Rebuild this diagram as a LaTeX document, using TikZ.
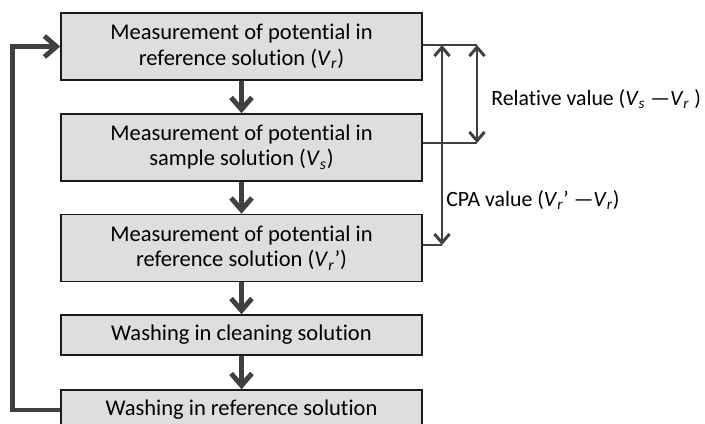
\documentclass[tikz,border=0pt]{standalone}
\usepackage{fontspec}
\setmainfont{Carlito}[Ligatures={NoCommon}]
\usetikzlibrary{arrows.meta, positioning}
\definecolor{box-border}{HTML}{1A1A1A}
\definecolor{box-fill}{HTML}{DEDEDE}
\definecolor{flow-line}{HTML}{404040}
\newcommand{\Vsub}[1]{\textit{V}\textsubscript{\textit{#1}}}
\tikzset{
  proc/.style={
    draw=box-border, fill=box-fill, line width=1.1pt,
    minimum width=9.025cm, minimum height=1.675cm, align=center,
    font=\fontsize{16}{17.8}\selectfont, inner sep=0pt
  },
  flow/.style={
    draw=flow-line, line width=3.5pt,
    -{Straight Barb[length=0.3cm, width=0.52cm]}
  },
  span/.style={
    draw=flow-line, line width=2.1pt,
    {Straight Barb[length=0.22cm, width=0.38cm]}-{Straight Barb[length=0.22cm, width=0.38cm]}
  },
  link/.style={draw=flow-line, line width=2.1pt},
  lbl/.style={font=\fontsize{15.5}{17.8}\selectfont, anchor=west, inner sep=0pt}
}

\begin{document}
\begin{tikzpicture}[x=0.025cm, y=-0.025cm]
  \useasboundingbox (0,0) rectangle (705,423);

  % ---- Process boxes -------------------------------------------------------
  \node[proc] (ref1) at (241.5, 46.5)
        {Measurement of potential in\\reference solution (\Vsub{r})};
  \node[proc] (samp) at (241.5, 147.5)
        {Measurement of potential in\\sample solution (\Vsub{s})};
  \node[proc] (ref2) at (241.5, 248)
        {Measurement of potential in\\reference solution (\Vsub{r}’)};
  \node[proc, minimum height=1cm] (wcln) at (241.5, 335)
        {Washing in cleaning solution};
  \node[proc, minimum height=1cm] (wref) at (241.5, 410)
        {Washing in reference solution};

  % ---- Flow arrows ---------------------------------------------------------
  \draw[flow] (ref1.south) -- (samp.north);
  \draw[flow] (samp.south) -- (ref2.north);
  \draw[flow] (ref2.south) -- (wcln.north);
  \draw[flow] (wcln.south) -- (wref.north);
  \draw[flow] (wref.west) -- ++(-48,0) |- (ref1.west);

  % ---- Differences ---------------------------------------------------------
  \coordinate (relT) at (477, 45);
  \coordinate (relB) at (477, 143);
  \coordinate (cpaT) at (442, 45);
  \coordinate (cpaB) at (442, 245);
  \draw[link] (ref1.east |- relT) -- (relT);
  \draw[link] (samp.east |- relB) -- (relB);
  \draw[link] (ref2.east |- cpaB) -- (cpaB);
  \draw[span] (relT) -- (relB);
  \draw[span] (cpaT) -- (cpaB);

  \node[lbl] (rel) at (491, 99) {Relative value (\Vsub{s} —\Vsub{r} )};
  \node[lbl] (cpa) at (446, 200) {CPA value (\Vsub{r}’ —\Vsub{r})};

\end{tikzpicture}
\end{document}
